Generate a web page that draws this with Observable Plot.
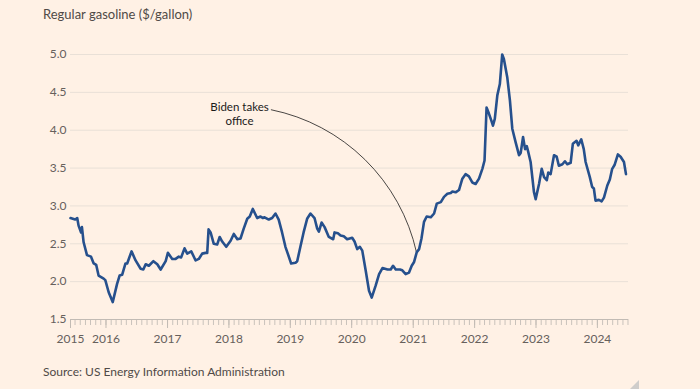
<!DOCTYPE html>
<html>
<head>
<meta charset="utf-8">
<script src="https://cdn.jsdelivr.net/npm/d3@7"></script>
<script src="https://cdn.jsdelivr.net/npm/@observablehq/plot@0.6"></script>
<style>
  html, body { margin: 0; padding: 0; background: #FFF1E5; }
  #wrap { position: relative; width: 700px; height: 389px; background: #FFF1E5; overflow: hidden; font-family: Lato, "Open Sans", sans-serif; }
  #title { position: absolute; left: 43px; top: 6px; font-size: 13px; color: #4f4a47; }
  #chart { position: absolute; left: 0; top: 32px; }
  #source { position: absolute; left: 43px; top: 364px; font-size: 12px; color: #4f4a47; }
  #corner { position: absolute; left: 630px; top: 380px; width: 0; height: 0;
            border-left: 9px solid transparent; border-bottom: 9px solid #cfcdcb; }
</style>
</head>
<body>
<div id="wrap">
  <div id="title">Regular gasoline ($/gallon)</div>
  <div id="chart"></div>
  <div id="source">Source: US Energy Information Administration</div>
  <div id="corner"></div>
</div>
<script>
const dates = [
  "2015-06-04","2015-07-02","2015-07-14","2015-07-22","2015-08-06","2015-08-11","2015-08-21","2015-09-10",
  "2015-10-04","2015-10-20","2015-11-04","2015-11-18","2015-12-18","2015-12-28","2016-01-17","2016-02-10",
  "2016-03-07","2016-03-22","2016-04-06","2016-04-26","2016-05-06","2016-06-01","2016-06-25","2016-07-25",
  "2016-08-10","2016-08-24","2016-09-12","2016-10-09","2016-11-01","2016-11-21","2016-12-21","2017-01-03",
  "2017-01-29","2017-02-18","2017-03-09","2017-03-23","2017-04-12","2017-04-28","2017-05-22","2017-06-17",
  "2017-07-06","2017-07-26","2017-08-15","2017-08-25","2017-09-02","2017-09-14","2017-10-03","2017-10-23",
  "2017-11-07","2017-11-22","2017-12-16","2018-01-11","2018-01-30","2018-02-20","2018-03-11","2018-03-30",
  "2018-04-20","2018-05-05","2018-05-23","2018-06-18","2018-07-08","2018-07-22","2018-08-01","2018-08-26",
  "2018-09-15","2018-10-05","2018-10-24","2018-11-13","2018-12-03","2018-12-17","2019-01-06","2019-02-01",
  "2019-02-11","2019-03-02","2019-03-21","2019-04-11","2019-05-01","2019-05-25","2019-06-10","2019-06-20",
  "2019-07-06","2019-07-24","2019-08-18","2019-09-13","2019-09-21","2019-10-11","2019-10-27","2019-11-15",
  "2019-12-05","2020-01-04","2020-01-18","2020-02-03","2020-02-19","2020-03-04","2020-03-24","2020-04-13",
  "2020-04-29","2020-05-23","2020-06-12","2020-07-02","2020-08-01","2020-08-20","2020-09-03","2020-09-19",
  "2020-10-14","2020-10-28","2020-11-17","2020-12-07","2020-12-23","2021-01-06","2021-01-22","2021-02-05",
  "2021-02-19","2021-03-06","2021-03-22","2021-04-15","2021-05-05","2021-05-21","2021-06-14","2021-07-03",
  "2021-07-23","2021-08-12","2021-08-22","2021-09-10","2021-09-30","2021-10-20","2021-11-08","2021-11-28",
  "2021-12-18","2022-01-07","2022-01-27","2022-02-16","2022-03-01","2022-03-13","2022-03-27","2022-04-10",
  "2022-04-20","2022-05-01","2022-05-16","2022-05-31","2022-06-14","2022-06-24","2022-07-14","2022-07-30",
  "2022-08-13","2022-09-02","2022-09-22","2022-10-02","2022-10-16","2022-10-28","2022-11-07","2022-11-14",
  "2022-11-30","2022-12-20","2022-12-30","2023-01-19","2023-02-04","2023-02-18","2023-03-06","2023-03-15",
  "2023-03-29","2023-04-18","2023-05-04","2023-05-17","2023-06-07","2023-06-22","2023-07-06","2023-07-26",
  "2023-08-08","2023-08-30","2023-09-09","2023-09-27","2023-10-12","2023-10-23","2023-11-17","2023-12-01",
  "2023-12-11","2023-12-21","2024-01-10","2024-01-26","2024-02-09","2024-02-29","2024-03-15","2024-03-29",
  "2024-04-12","2024-05-02","2024-05-18","2024-06-07","2024-06-19"
];
const prices = [
  2.84,2.82,2.84,2.74,2.65,2.72,2.52,2.35,
  2.33,2.24,2.22,2.08,2.04,2.02,1.86,1.73,
  1.97,2.08,2.09,2.24,2.24,2.40,2.28,2.17,
  2.16,2.23,2.21,2.27,2.23,2.16,2.27,2.38,
  2.30,2.30,2.33,2.32,2.44,2.37,2.40,2.28,
  2.30,2.37,2.38,2.38,2.69,2.65,2.50,2.49,
  2.59,2.53,2.46,2.54,2.63,2.56,2.57,2.70,
  2.83,2.86,2.96,2.84,2.86,2.84,2.85,2.82,
  2.84,2.90,2.82,2.65,2.46,2.37,2.24,2.25,
  2.27,2.46,2.65,2.83,2.90,2.84,2.70,2.66,
  2.78,2.72,2.59,2.56,2.65,2.64,2.61,2.60,
  2.56,2.58,2.53,2.43,2.46,2.41,2.15,1.88,
  1.79,1.95,2.10,2.18,2.16,2.16,2.21,2.16,
  2.16,2.15,2.10,2.12,2.21,2.26,2.39,2.43,
  2.57,2.79,2.86,2.85,2.90,3.03,3.05,3.12,
  3.16,3.17,3.19,3.18,3.21,3.36,3.42,3.39,
  3.31,3.29,3.36,3.49,3.60,4.30,4.22,4.13,
  4.06,4.15,4.46,4.61,5.00,4.94,4.70,4.39,
  4.02,3.84,3.67,3.70,3.91,3.75,3.79,3.73,
  3.58,3.18,3.09,3.29,3.49,3.38,3.34,3.44,
  3.42,3.67,3.65,3.53,3.55,3.59,3.55,3.57,
  3.82,3.86,3.80,3.88,3.75,3.58,3.38,3.25,
  3.23,3.07,3.08,3.06,3.11,3.27,3.35,3.49,
  3.54,3.68,3.65,3.58,3.42
];
const yTicks = [1.5, 2.0, 2.5, 3.0, 3.5, 4.0, 4.5, 5.0];
const xLabelDates = ["2015-06-04","2016-01-01","2017-01-01","2018-01-01","2019-01-01","2020-01-01","2021-01-01","2022-01-01","2023-01-01","2024-01-01"];
const xLabels = ["2015","2016","2017","2018","2019","2020","2021","2022","2023","2024"];
const xDomain = ["2015-06-04", "2024-07-04"];
const annotation = [{text: "Biden takes\noffice", textDate: "2018-03-05", textValue: 4.38,
                     fromDate: "2018-09-10", fromValue: 4.27, toDate: "2021-01-20", toValue: 2.39}];

const data = dates.map((d, i) => ({date: new Date(d), price: prices[i]}));
const ann = annotation.map(a => ({...a, textDate: new Date(a.textDate), fromDate: new Date(a.fromDate), toDate: new Date(a.toDate)}));
const labelPos = xLabelDates.map(d => new Date(d));
const labelMap = new Map(labelPos.map((d, i) => [+d, xLabels[i]]));
const yearTicks = labelPos.slice(1);

const chart = Plot.plot({
  width: 700,
  height: 318,
  marginLeft: 70,
  marginRight: 72,
  marginTop: 22,
  marginBottom: 31,
  style: {background: "transparent", fontFamily: "Lato, 'Open Sans', sans-serif", fontSize: "12px", color: "#66605c"},
  x: {type: "utc", domain: xDomain.map(d => new Date(d))},
  y: {domain: [1.5, 5.0]},
  marks: [
    Plot.ruleY(yTicks.slice(1), {stroke: "#e9e0d7", strokeWidth: 1}),
    Plot.axisY({ticks: yTicks, tickSize: 0, tickPadding: 4, tickFormat: d3.format(".1f"), fill: "#66605c", fontSize: 12}),
    Plot.axisX({ticks: d3.utcMonth.every(1), tickSize: 6, tickFormat: () => "", stroke: "#c9c2bb"}),
    Plot.axisX({ticks: [labelPos[0], ...yearTicks], tickSize: 9, tickFormat: () => "", stroke: "#c2bbb4"}),
    Plot.axisX({ticks: labelPos, tickSize: 0, tickPadding: 15, tickFormat: d => labelMap.get(+d), fill: "#66605c", fontSize: 12}),
    Plot.ruleY([1.5], {stroke: "#c2bbb4", strokeWidth: 1}),
    Plot.arrow(ann, {x1: "fromDate", y1: "fromValue", x2: "toDate", y2: "toValue", bend: 33, headLength: 0, stroke: "#1a1a1a", strokeWidth: 0.8}),
    Plot.line(data, {x: "date", y: "price", stroke: "#26508d", strokeWidth: 2.6, strokeLinejoin: "round", curve: "linear"}),
    Plot.text(ann, {x: "textDate", y: "textValue", text: "text", textAnchor: "middle", lineAnchor: "top", fill: "#1a1a1a", fontSize: 11.5, lineHeight: 1.2})
  ]
});
document.getElementById("chart").appendChild(chart);
</script>
</body>
</html>
